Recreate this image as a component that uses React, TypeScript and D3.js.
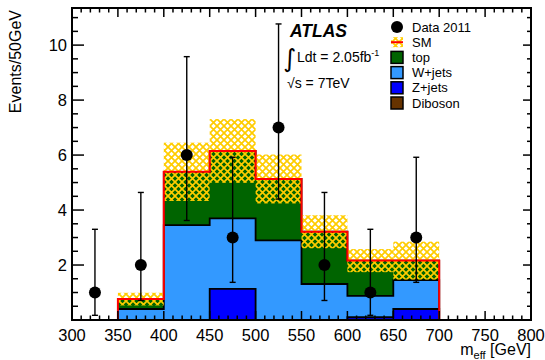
import React from 'react';
import * as d3 from 'd3';

const binEdges = [300, 350, 400, 450, 500, 550, 600, 650, 700, 750, 800];
const diboson = [0, 0, 0, 0, 0, 0, 0, 0, 0, 0];
const zjets = [0, 0, 0, 1.13, 0, 0, 0.1, 0.4, 0, 0];
const wjets = [0, 0.4, 3.45, 2.57, 2.9, 1.31, 0.78, 1.05, 0, 0];
const topq = [0, 0.36, 1.94, 2.45, 2.23, 1.9, 1.28, 0.71, 0, 0];
const smErr = [0, 0.23, 1.06, 1.16, 0.89, 0.6, 0.42, 0.69, 0, 0];
const dataX = [325, 375, 425, 475, 525, 575, 625, 675];
const dataY = [1, 2, 6, 3, 7, 2, 1, 3];
const dataErrLo = [0.83, 1.29, 2.38, 1.63, 2.6, 1.29, 0.83, 1.63];
const dataErrHi = [2.3, 2.64, 3.58, 2.92, 3.77, 2.64, 2.3, 2.92];
const xTickLabels = [300, 350, 400, 450, 500, 550, 600, 650, 700, 750, 800];
const yTickLabels = [2, 4, 6, 8, 10];

const legendItems = [
  { label: 'Data 2011', kind: 'data', color: '#000' },
  { label: 'SM', kind: 'sm', color: '#ff0000' },
  { label: 'top', kind: 'box', color: '#006400' },
  { label: 'W+jets', kind: 'box', color: '#3399ff' },
  { label: 'Z+jets', kind: 'box', color: '#0000ff' },
  { label: 'Diboson', kind: 'box', color: '#663300' },
];

const W = 545, H = 360;
const L = 72, R = 531, T = 8, B = 320;
const FONT = 'Liberation Sans, Arial, Helvetica, sans-serif';

export default function App() {
  const x = d3.scaleLinear().domain([300, 800]).range([L, R]);
  const y = d3.scaleLinear().domain([0, 11.35]).range([B, T]);

  const lvl1 = diboson.slice();
  const lvl2 = lvl1.map((v, i) => v + zjets[i]);
  const lvl3 = lvl2.map((v, i) => v + wjets[i]);
  const lvl4 = lvl3.map((v, i) => v + topq[i]);

  const pts = (vals: number[]) => {
    const p: [number, number][] = vals.map((v, i) => [binEdges[i], v]);
    p.push([binEdges[binEdges.length - 1], vals[vals.length - 1]]);
    return p;
  };
  const area = d3.area<[number, number]>()
    .x(d => x(d[0])).y0(y(0)).y1(d => y(d[1])).curve(d3.curveStepAfter);
  const line = d3.line<[number, number]>()
    .x(d => x(d[0])).y(d => y(d[1])).curve(d3.curveStepAfter);

  const stacks = [
    { vals: lvl4, color: '#006400' },
    { vals: lvl3, color: '#3399ff' },
    { vals: lvl2, color: '#0000ff' },
    { vals: lvl1, color: '#663300' },
  ];

  const xMajor = d3.range(300, 801, 50);
  const xMinor = d3.range(300, 801, 10).filter(v => v % 50 !== 0);
  const yMajor = d3.range(0, 11.35, 2);
  const yMinor = d3.range(0, 11.35, 0.5).filter(v => v % 2 !== 0);

  return (
    <div style={{ position: 'absolute', left: 0, top: 0 }}>
      <svg width={W} height={H} style={{ display: 'block', background: '#fff' }} fontFamily={FONT}>
        <defs>
          <pattern id="hatch" patternUnits="userSpaceOnUse" width={7} height={7}>
            <path d="M-1,-1 L8,8 M8,-1 L-1,8" stroke="#ffcc00" strokeWidth={1.7} fill="none" />
          </pattern>
          <clipPath id="frame">
            <rect x={L} y={T} width={R - L} height={B - T} />
          </clipPath>
        </defs>
        <rect x={0} y={0} width={W} height={H} fill="#fff" />
        <g clipPath="url(#frame)">
          {stacks.map((s, i) => (
            <path key={i} d={area(pts(s.vals)) || ''} fill={s.color} stroke="#000" strokeWidth={1.8} />
          ))}
          {lvl4.map((v, i) => smErr[i] > 0 ? (
            <rect key={i} x={x(binEdges[i])} width={x(binEdges[i + 1]) - x(binEdges[i])}
              y={y(v + smErr[i])} height={y(v - smErr[i]) - y(v + smErr[i])} fill="url(#hatch)" />
          ) : null)}
          <path d={line(pts(lvl4)) || ''} fill="none" stroke="#ff0000" strokeWidth={2} />
        </g>
        {/* data */}
        {dataX.map((dx, i) => {
          const cx = x(dx);
          const y1 = y(dataY[i] + dataErrHi[i]);
          const y0 = y(dataY[i] - dataErrLo[i]);
          return (
            <g key={i}>
              <line x1={cx} x2={cx} y1={y1} y2={y0} stroke="#000" strokeWidth={1.4} />
              <line x1={cx - 3} x2={cx + 3} y1={y1} y2={y1} stroke="#000" strokeWidth={1.4} />
              <line x1={cx - 3} x2={cx + 3} y1={y0} y2={y0} stroke="#000" strokeWidth={1.4} />
              <circle cx={cx} cy={y(dataY[i])} r={6} fill="#000" />
            </g>
          );
        })}
        {/* frame */}
        <rect x={L} y={T} width={R - L} height={B - T} fill="none" stroke="#000" strokeWidth={2} />
        {/* x ticks */}
        {xMajor.map(v => (
          <g key={'xM' + v}>
            <line x1={x(v)} x2={x(v)} y1={B} y2={B - 9} stroke="#000" strokeWidth={1.5} />
            <line x1={x(v)} x2={x(v)} y1={T} y2={T + 9} stroke="#000" strokeWidth={1.5} />
          </g>
        ))}
        {xMinor.map(v => (
          <g key={'xm' + v}>
            <line x1={x(v)} x2={x(v)} y1={B} y2={B - 4.5} stroke="#000" strokeWidth={1.5} />
            <line x1={x(v)} x2={x(v)} y1={T} y2={T + 4.5} stroke="#000" strokeWidth={1.5} />
          </g>
        ))}
        {yMajor.map(v => (
          <g key={'yM' + v}>
            <line x1={L} x2={L + 12} y1={y(v)} y2={y(v)} stroke="#000" strokeWidth={1.5} />
            <line x1={R} x2={R - 8} y1={y(v)} y2={y(v)} stroke="#000" strokeWidth={1.5} />
          </g>
        ))}
        {yMinor.map(v => (
          <g key={'ym' + v}>
            <line x1={L} x2={L + 6} y1={y(v)} y2={y(v)} stroke="#000" strokeWidth={1.5} />
            <line x1={R} x2={R - 4} y1={y(v)} y2={y(v)} stroke="#000" strokeWidth={1.5} />
          </g>
        ))}
        {/* tick labels */}
        {xTickLabels.map(v => (
          <text key={'xl' + v} x={x(v)} y={341} textAnchor="middle" fontSize={16.5}>{v}</text>
        ))}
        {yTickLabels.map(v => (
          <text key={'yl' + v} x={L - 5} y={y(v)} dy="0.36em" textAnchor="end" fontSize={16.5}>{v}</text>
        ))}
        {/* axis titles */}
        <text x={R} y={355} textAnchor="end" fontSize={16}>
          m<tspan fontSize={11} dy={4}>eff</tspan><tspan dy={-4}> [GeV]</tspan>
        </text>
        <text transform={`translate(21,${T + 2}) rotate(-90)`} textAnchor="end" fontSize={16}>Events/50GeV</text>
        {/* ATLAS labels */}
        <text x={290} y={37} fontSize={17.5} fontWeight="bold" fontStyle="italic">ATLAS</text>
        <text x={283} y={67} fontSize={25} fontFamily="DejaVu Sans, sans-serif">∫</text>
        <text x={297} y={62} fontSize={14}>Ldt = 2.05fb<tspan fontSize={9} dy={-6}>-1</tspan></text>
        <text x={287} y={88} fontSize={14}>√s = 7TeV</text>
        {/* legend */}
        {legendItems.map((it, i) => {
          const cy = 27 + i * 15.2;
          const cx = 397;
          return (
            <g key={it.label}>
              {it.kind === 'data' && <circle cx={cx} cy={cy} r={6} fill="#000" />}
              {it.kind === 'sm' && (
                <g>
                  <rect x={cx - 6} y={cy - 5} width={12} height={10} fill="url(#hatch)" />
                  <line x1={cx - 6} x2={cx + 6} y1={cy} y2={cy} stroke="#ff0000" strokeWidth={2} />
                </g>
              )}
              {it.kind === 'box' && (
                <rect x={cx - 6} y={cy - 6} width={12} height={12} fill={it.color} stroke="#000" strokeWidth={1.5} />
              )}
              <text x={412} y={cy} dy="0.36em" fontSize={13}>{it.label}</text>
            </g>
          );
        })}
      </svg>
    </div>
  );
}
